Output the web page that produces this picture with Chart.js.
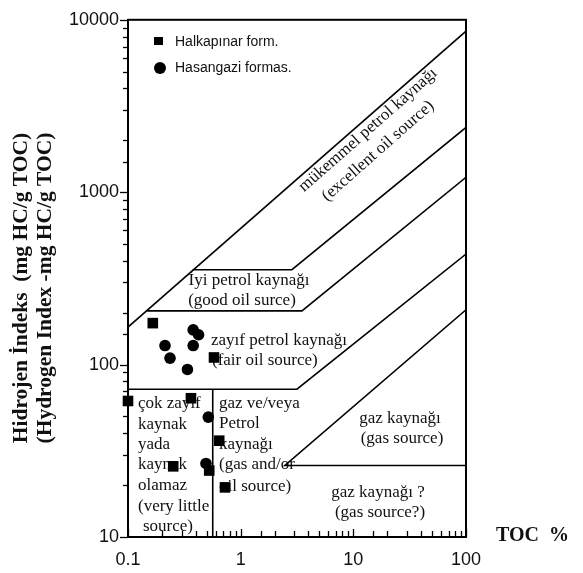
<!DOCTYPE html>
<html>
<head>
<meta charset="utf-8">
<script src="https://cdn.jsdelivr.net/npm/chart.js@4.4.0/dist/chart.umd.min.js"></script>
<style>
  html, body { margin: 0; padding: 0; background: #fff; }
  #wrap { width: 583px; height: 573px; position: relative; }
</style>
</head>
<body>
<div id="wrap"><canvas id="chartHI"></canvas></div>
<script>
// --- sample points (TOC %, HI mg HC/g TOC) ---
const halkapinarTOC = [0.166, 0.58, 0.1, 0.362, 0.645, 0.252, 0.526, 0.726];
const halkapinarHI  = [174, 110, 61.5, 63.8, 36.2, 25.7, 24.3, 19.4];
const hasangaziTOC  = [0.379, 0.423, 0.213, 0.379, 0.236, 0.337, 0.516, 0.492];
const hasangaziHI   = [159, 149, 129, 129, 109, 93.7, 49.6, 26.7];

// --- zone boundaries ---
const excellentTOC = [0.1, 100];
const excellentHI  = [165, 8600];
const goodTOC      = [0.375, 2.85, 100];
const goodHI       = [355, 355, 2375];
const fairTOC      = [0.148, 3.5, 100];
const fairHI       = [205, 205, 1220];
const poorTOC      = [0.1, 3.16, 100];
const poorHI       = [72, 72, 438];
const cutoffTOC    = [0.565, 0.565];
const cutoffHI     = [72, 10];
const gasTOC       = [100, 2.47, 100];
const gasHI        = [208, 26, 26];

const xTickValues = [0.1, 1, 10, 100];
const yTickValues = [10, 100, 1000, 10000];

const legendNames = ["Halkapınar form.", "Hasangazi formas."];

function pts(xs, ys) {
  return xs.map((x, i) => ({ x: x, y: ys[i] }));
}

function isMajor(v) {
  const l = Math.log10(v);
  return Math.abs(l - Math.round(l)) < 1e-9;
}

// yazilar di dalam grafik (posisi piksel)
const SERIF = "'Liberation Serif', 'Times New Roman', serif";
const SANS = "'Liberation Sans', Arial, sans-serif";
const zoneLabels = [
  { t: "İyi petrol kaynağı", x: 249, y: 281, a: "center" },
  { t: "(good oil surce)", x: 242, y: 301, a: "center" },
  { t: "zayıf petrol kaynağı", x: 211, y: 341, a: "left" },
  { t: "(fair oil source)", x: 212, y: 361, a: "left" },
  { t: "çok zayıf", x: 138, y: 404, a: "left" },
  { t: "kaynak", x: 138, y: 425, a: "left" },
  { t: "yada", x: 138, y: 445, a: "left" },
  { t: "kaynak", x: 138, y: 465, a: "left" },
  { t: "olamaz", x: 138, y: 486, a: "left" },
  { t: "(very little", x: 138, y: 507, a: "left" },
  { t: "source)", x: 143, y: 527, a: "left" },
  { t: "gaz ve/veya", x: 219, y: 404, a: "left" },
  { t: "Petrol", x: 219, y: 424, a: "left" },
  { t: "kaynağı", x: 219, y: 445, a: "left" },
  { t: "(gas and/or", x: 219, y: 465, a: "left" },
  { t: "oil source)", x: 219, y: 487, a: "left" },
  { t: "gaz kaynağı", x: 400, y: 419, a: "center" },
  { t: "(gas source)", x: 402, y: 439, a: "center" },
  { t: "gaz kaynağı ?", x: 378, y: 493, a: "center" },
  { t: "(gas source?)", x: 380, y: 513, a: "center" }
];
const slantLabels = [
  { t: "mükemmel petrol kaynağı", x: 368, y: 130 },
  { t: "(excellent oil source)", x: 378, y: 151 }
];

const textPlugin = {
  id: "zoneText",
  beforeDatasetsDraw(chart) {
    const ctx = chart.ctx;
    ctx.save();
    ctx.fillStyle = "#111";
    ctx.font = "17px " + SERIF;
    ctx.textBaseline = "middle";
    zoneLabels.forEach(l => {
      ctx.textAlign = l.a;
      ctx.fillText(l.t, l.x, l.y);
    });
    ctx.textAlign = "center";
    slantLabels.forEach(l => {
      ctx.save();
      ctx.translate(l.x, l.y);
      ctx.rotate(-41.4 * Math.PI / 180);
      ctx.fillText(l.t, 0, 0);
      ctx.restore();
    });
    ctx.restore();
  },
  afterDraw(chart) {
    const { ctx, chartArea: a } = chart;
    const xs = chart.scales.x, ys = chart.scales.y;
    ctx.save();
    ctx.strokeStyle = "#000";
    ctx.lineWidth = 1.3;
    // tick kecil: sumbu y keluar, sumbu x ke dalam
    ys.ticks.forEach(t => {
      const py = Math.round(ys.getPixelForValue(t.value)) + 0.5;
      const len = isMajor(t.value) ? 8 : 5;
      ctx.beginPath(); ctx.moveTo(a.left, py); ctx.lineTo(a.left - len, py); ctx.stroke();
    });
    xs.ticks.forEach(t => {
      const px = Math.round(xs.getPixelForValue(t.value)) + 0.5;
      const len = isMajor(t.value) ? 8 : 6;
      ctx.beginPath(); ctx.moveTo(px, a.bottom); ctx.lineTo(px, a.bottom - len); ctx.stroke();
    });
    // frame
    ctx.lineWidth = 2;
    ctx.strokeRect(a.left, a.top, a.right - a.left, a.bottom - a.top);

    // legend
    ctx.fillStyle = "#000";
    ctx.fillRect(154, 37, 9, 8);
    ctx.beginPath(); ctx.arc(160, 68, 6, 0, Math.PI * 2); ctx.fill();
    ctx.fillStyle = "#111";
    ctx.font = "14px " + SANS;
    ctx.textAlign = "left";
    ctx.textBaseline = "middle";
    ctx.fillText(legendNames[0], 175, 42);
    ctx.fillText(legendNames[1], 175, 68);

    // axis titles
    ctx.font = "bold 21.5px " + SERIF;
    ctx.textAlign = "center";
    ctx.save();
    ctx.translate(21, 288);
    ctx.rotate(-Math.PI / 2);
    ctx.fillText("Hidrojen İndeks  (mg HC/g TOC)", 0, 0);
    ctx.fillText("(Hydrogen Index -mg HC/g TOC)", 0, 24);
    ctx.restore();
    ctx.font = "bold 20px " + SERIF;
    ctx.textAlign = "left";
    ctx.fillText("TOC  %", 496, 536);
    ctx.restore();
  }
};

const lineStyle = {
  showLine: true,
  pointRadius: 0,
  borderColor: "#000",
  borderWidth: 1.6,
  fill: false
};

new Chart(document.getElementById("chartHI"), {
  type: "scatter",
  data: {
    datasets: [
      { label: legendNames[0], data: pts(halkapinarTOC, halkapinarHI), pointStyle: "rect",
        pointRadius: 7.5, backgroundColor: "#000", borderColor: "#000", borderWidth: 0, clip: false },
      { label: legendNames[1], data: pts(hasangaziTOC, hasangaziHI), pointStyle: "circle",
        pointRadius: 5.8, backgroundColor: "#000", borderColor: "#000", borderWidth: 0, clip: false },
      Object.assign({ label: "excellent", data: pts(excellentTOC, excellentHI) }, lineStyle),
      Object.assign({ label: "good", data: pts(goodTOC, goodHI) }, lineStyle),
      Object.assign({ label: "fair", data: pts(fairTOC, fairHI) }, lineStyle),
      Object.assign({ label: "poor", data: pts(poorTOC, poorHI) }, lineStyle),
      Object.assign({ label: "cutoff", data: pts(cutoffTOC, cutoffHI) }, lineStyle),
      Object.assign({ label: "gas", data: pts(gasTOC, gasHI) }, lineStyle)
    ]
  },
  options: {
    responsive: true,
    maintainAspectRatio: false,
    animation: false,
    devicePixelRatio: 1,
    layout: { padding: { left: 0, right: 117, top: 16, bottom: 0 } },
    plugins: {
      legend: { display: false },
      tooltip: { enabled: false }
    },
    scales: {
      x: {
        type: "logarithmic",
        min: 0.1,
        max: 100,
        grid: { display: false, drawTicks: false },
        border: { display: false },
        ticks: {
          autoSkip: false,
          maxRotation: 0,
          padding: 12,
          color: "#111",
          font: { family: SANS, size: 18 },
          callback: v => xTickValues.some(t => Math.abs(t - v) < 1e-9) ? String(v) : ""
        },
        afterFit: s => { s.height = 36; }
      },
      y: {
        type: "logarithmic",
        min: 10,
        max: 10000,
        grid: { display: false, drawTicks: false },
        border: { display: false },
        ticks: {
          autoSkip: false,
          padding: 9,
          color: "#111",
          font: { family: SANS, size: 18 },
          callback: v => yTickValues.some(t => Math.abs(t - v) < 1e-9) ? String(v) : ""
        },
        afterFit: s => { s.width = 128; }
      }
    }
  },
  plugins: [textPlugin]
});
</script>
</body>
</html>
